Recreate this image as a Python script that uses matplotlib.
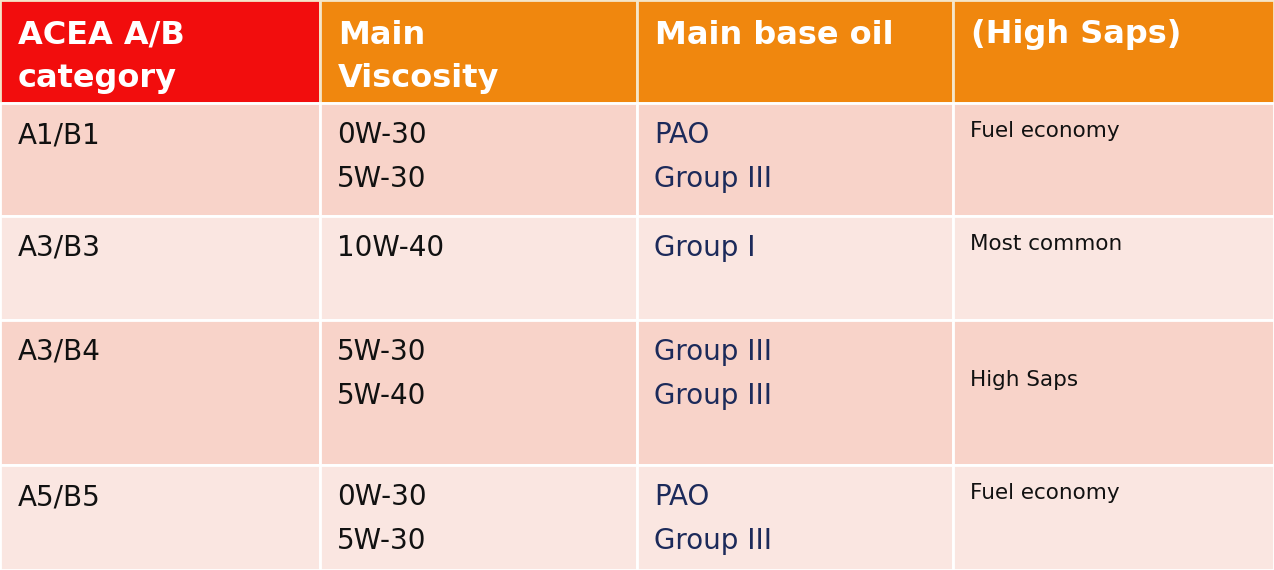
import matplotlib
matplotlib.use("Agg")
import matplotlib.pyplot as plt
from matplotlib.patches import Rectangle

headers = [["ACEA A/B", "category"], ["Main", "Viscosity"], ["Main base oil"], ["(High Saps)"]]
categories = ["A1/B1", "A3/B3", "A3/B4", "A5/B5"]
viscosity = [["0W-30", "5W-30"], ["10W-40"], ["5W-30", "5W-40"], ["0W-30", "5W-30"]]
base_oil = [["PAO", "Group III"], ["Group I"], ["Group III", "Group III"], ["PAO", "Group III"]]
notes = ["Fuel economy", "Most common", "High Saps", "Fuel economy"]

col_x = [0, 320, 637, 953, 1274]
row_y = [0, 103, 216, 320, 465, 570]
row_colors = ["#f8d3c9", "#fae6e1", "#f8d3c9", "#fae6e1"]
note_y = [131, 244, 380, 493]

fig = plt.figure(figsize=(12.74, 5.7), dpi=100)
ax = fig.add_axes([0, 0, 1, 1])
ax.set_xlim(0, 1274); ax.set_ylim(570, 0); ax.axis("off")

for c in range(4):
    color = "#f20d0d" if c == 0 else "#f0870e"
    ax.add_patch(Rectangle((col_x[c], 0), col_x[c+1]-col_x[c], row_y[1], facecolor=color,
                           edgecolor="#f5e6c8", lw=2))
    for i, t in enumerate(headers[c]):
        ax.text(col_x[c] + 18, 35 + 43*i, t, color="white", fontsize=23, fontweight="bold",
                va="center", ha="left")
for r in range(4):
    y0, y1 = row_y[r+1], row_y[r+2]
    for c in range(4):
        ax.add_patch(Rectangle((col_x[c], y0), col_x[c+1]-col_x[c], y1-y0,
                               facecolor=row_colors[r], edgecolor="white", lw=2))
    top = y0 + 32
    ax.text(18, top, categories[r], fontsize=20, color="#111111", va="center")
    for i, t in enumerate(viscosity[r]):
        ax.text(337, top + 44*i, t, fontsize=20, color="#111111", va="center")
    for i, t in enumerate(base_oil[r]):
        ax.text(654, top + 44*i, t, fontsize=20, color="#1c2a5a", va="center")
    ax.text(970, note_y[r], notes[r], fontsize=15.5, color="#111111", va="center")

fig.savefig("out.png", dpi=100)
